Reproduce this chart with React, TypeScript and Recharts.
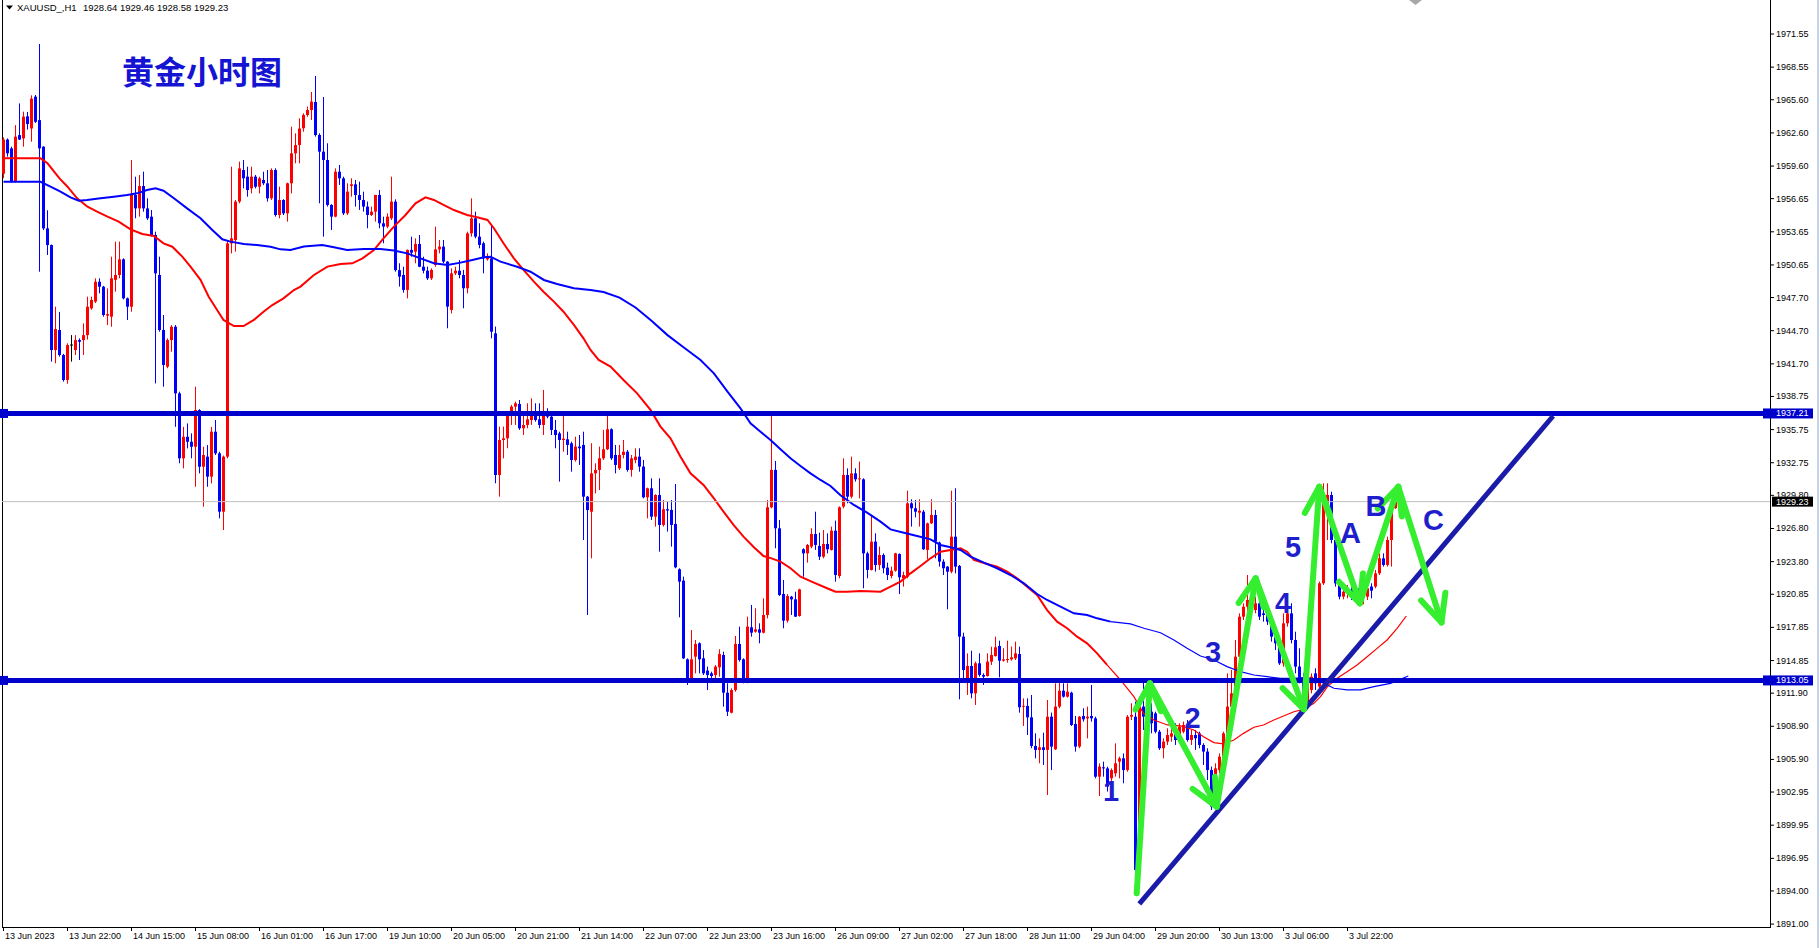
import React from 'react';
import { ComposedChart, Bar, Line, XAxis, YAxis, ReferenceLine, ReferenceDot } from 'recharts';

// ---------- candle data (H1 bars, index 0 = first visible bar) ----------
const openP = [
  1958.9, 1962.0, 1961.2, 1958.2, 1962.4, 1962.1, 1964.1, 1963.0, 1965.88, 1963.76,
  1961.35, 1953.96, 1952.45, 1942.95, 1944.76, 1942.5, 1940.24, 1943.4, 1942.95, 1943.85,
  1943.85, 1944.3, 1946.72, 1947.33, 1949.13, 1948.68, 1946.06, 1945.97, 1949.3, 1949.74,
  1951.16, 1947.63, 1946.87, 1956.98, 1955.77, 1957.79, 1955.77, 1955.02, 1953.36, 1949.74,
  1944.76, 1941.44, 1943.85, 1945.06, 1939.03, 1933.15, 1935.1, 1934.65, 1934.2, 1937.52,
  1932.39, 1933.3, 1931.49, 1935.56, 1933.6, 1928.32, 1933.3, 1952.6, 1952.9, 1956.38,
  1959.24, 1958.64, 1957.58, 1958.64, 1957.73, 1958.34, 1958.04, 1956.68, 1959.24, 1955.17,
  1956.53, 1955.32, 1958.04, 1960.75, 1961.5, 1963.02, 1964.22, 1964.67, 1965.4, 1962.41,
  1960.9, 1960.15, 1956.08, 1955.02, 1959.09, 1958.49, 1955.32, 1957.8, 1957.95, 1956.98,
  1956.53, 1955.93, 1955.17, 1955.47, 1956.98, 1954.42, 1954.12, 1954.87, 1956.38, 1950.18,
  1949.74, 1948.39, 1952.01, 1951.85, 1952.55, 1950.49, 1950.13, 1949.44, 1950.65, 1952.06,
  1952.31, 1950.95, 1946.58, 1949.89, 1950.13, 1949.74, 1948.54, 1953.51, 1954.87, 1953.21,
  1952.61, 1951.16, 1951.25, 1944.46, 1931.64, 1934.81, 1934.96, 1937.07, 1937.83, 1938.07,
  1935.87, 1936.17, 1936.62, 1937.22, 1936.68, 1936.17, 1937.07, 1936.92, 1935.72, 1935.41,
  1934.81, 1934.87, 1934.51, 1933.0, 1934.21, 1934.36, 1929.68, 1928.32, 1931.79, 1932.1,
  1933.15, 1933.97, 1935.78, 1933.45, 1932.25, 1933.45, 1933.75, 1932.1, 1933.0, 1933.3,
  1932.4, 1929.62, 1930.44, 1927.87, 1929.83, 1927.12, 1928.54, 1928.48, 1927.21, 1923.11,
  1922.08, 1914.96, 1913.24, 1915.2, 1916.41, 1915.05, 1913.94, 1913.69, 1913.54, 1914.24,
  1915.35, 1911.94, 1910.13, 1912.18, 1916.35, 1914.96, 1913.09, 1917.86, 1917.46, 1917.67,
  1917.37, 1918.97, 1928.72, 1932.1, 1926.82, 1920.87, 1918.46, 1920.63, 1920.39, 1918.88,
  1924.92, 1924.55, 1925.16, 1926.3, 1925.22, 1924.25, 1925.4, 1924.86, 1926.6, 1922.5,
  1928.78, 1931.64, 1929.68, 1931.79, 1931.25, 1931.25, 1924.55, 1923.05, 1925.61, 1923.5,
  1924.4, 1923.26, 1922.5, 1922.98, 1924.49, 1922.29, 1922.44, 1929.08, 1928.63, 1928.23,
  1928.32, 1924.86, 1927.27, 1928.02, 1925.52, 1923.8, 1923.35, 1922.89, 1926.06, 1923.41,
  1917.01, 1913.24, 1914.36, 1911.88, 1914.6, 1913.54, 1913.45, 1914.75, 1915.26, 1916.17,
  1914.84, 1914.9, 1914.96, 1915.05, 1915.44, 1910.68, 1910.74, 1909.71, 1907.12, 1906.76,
  1907.0, 1906.76, 1909.77, 1906.82, 1910.68, 1912.12, 1911.58, 1911.94, 1909.11, 1907.06,
  1909.83, 1909.62, 1909.83, 1909.62, 1904.34, 1905.19, 1905.09, 1904.19, 1904.64, 1905.7,
  1906.0, 1904.94, 1909.77, 1909.77, 1895.9, 1910.68, 1909.77, 1910.22, 1910.07, 1908.41,
  1906.91, 1907.51, 1907.96, 1908.26, 1907.96, 1908.41, 1909.02, 1907.66, 1908.11, 1908.26,
  1907.21, 1906.61, 1904.94, 1902.83, 1904.94, 1906.15, 1908.26, 1910.68, 1911.88, 1915.2,
  1918.82, 1919.72, 1920.33, 1919.42, 1920.03, 1919.12, 1918.97, 1918.37, 1917.01, 1916.41,
  1914.6, 1918.22, 1919.12, 1916.71, 1914.3, 1913.09, 1910.68, 1912.19, 1913.69, 1912.49,
  1921.84, 1928.78, 1929.83, 1925.76, 1921.84, 1920.63, 1920.99, 1921.24, 1920.87, 1921.39,
  1920.63, 1920.63, 1921.54, 1921.54, 1922.74, 1924.1, 1923.5, 1925.76, 1928.64,
];
const highP = [
  1962.2, 1962.1, 1961.35, 1963.3, 1965.27, 1964.52, 1964.5, 1966.0, 1966.03, 1970.64,
  1961.4, 1955.6, 1952.5, 1946.87, 1946.4, 1942.6, 1943.56, 1944.3, 1944.3, 1944.0,
  1945.36, 1947.78, 1947.78, 1949.44, 1949.44, 1948.75, 1948.53, 1951.4, 1952.76, 1952.76,
  1951.25, 1947.7, 1960.15, 1958.64, 1958.79, 1959.09, 1956.68, 1955.62, 1953.66, 1951.4,
  1946.12, 1944.0, 1945.21, 1945.21, 1939.18, 1936.0, 1936.31, 1935.41, 1939.63, 1937.6,
  1934.2, 1934.35, 1936.0, 1936.62, 1933.75, 1933.4, 1952.9, 1959.54, 1956.53, 1960.0,
  1960.15, 1959.54, 1959.54, 1958.79, 1958.64, 1959.09, 1959.24, 1959.39, 1959.39, 1957.73,
  1956.6, 1958.1, 1963.16, 1962.56, 1963.92, 1964.37, 1964.98, 1966.3, 1967.75, 1962.56,
  1965.85, 1961.66, 1956.15, 1959.39, 1959.7, 1958.64, 1958.04, 1958.49, 1958.34, 1958.19,
  1957.28, 1956.38, 1955.93, 1957.0, 1957.43, 1955.02, 1955.32, 1958.64, 1956.59, 1950.8,
  1950.49, 1952.05, 1953.21, 1953.06, 1953.36, 1951.4, 1950.49, 1950.34, 1954.12, 1952.91,
  1952.91, 1951.0, 1950.34, 1950.49, 1951.1, 1950.2, 1953.66, 1956.68, 1955.47, 1954.42,
  1952.76, 1951.7, 1954.27, 1945.07, 1936.02, 1936.02, 1937.1, 1937.98, 1938.28, 1938.43,
  1937.22, 1938.13, 1938.58, 1938.13, 1938.13, 1939.34, 1937.68, 1937.37, 1936.62, 1935.56,
  1937.07, 1935.56, 1934.66, 1935.11, 1935.26, 1935.56, 1929.75, 1934.51, 1932.7, 1934.21,
  1935.72, 1937.07, 1935.87, 1934.36, 1934.36, 1934.81, 1933.9, 1933.45, 1934.06, 1934.06,
  1933.0, 1930.5, 1931.34, 1929.9, 1931.34, 1929.38, 1929.23, 1929.38, 1930.83, 1923.2,
  1922.44, 1915.05, 1917.61, 1916.71, 1916.5, 1915.8, 1914.3, 1913.84, 1914.45, 1915.87,
  1915.65, 1912.79, 1912.34, 1917.07, 1917.92, 1915.05, 1918.82, 1919.88, 1919.58, 1918.22,
  1920.48, 1929.38, 1936.98, 1932.91, 1927.57, 1922.14, 1920.87, 1920.7, 1921.08, 1921.35,
  1925.01, 1925.4, 1926.82, 1928.32, 1926.42, 1926.66, 1926.36, 1926.97, 1927.51, 1928.8,
  1933.15, 1932.24, 1933.3, 1932.25, 1932.85, 1931.34, 1924.7, 1928.02, 1926.36, 1925.16,
  1924.55, 1923.71, 1923.35, 1924.6, 1924.55, 1922.89, 1930.22, 1929.44, 1929.38, 1929.44,
  1928.48, 1927.33, 1929.44, 1928.48, 1925.61, 1924.01, 1923.4, 1930.22, 1930.44, 1923.5,
  1917.37, 1915.5, 1915.74, 1914.75, 1915.5, 1913.69, 1915.5, 1916.1, 1917.01, 1916.65,
  1915.96, 1916.65, 1916.11, 1916.56, 1916.11, 1911.43, 1911.43, 1911.73, 1908.26, 1907.81,
  1908.32, 1911.28, 1910.13, 1912.79, 1912.85, 1912.79, 1912.79, 1912.03, 1909.83, 1909.83,
  1910.53, 1910.68, 1912.64, 1909.77, 1905.55, 1905.7, 1905.25, 1905.09, 1907.36, 1906.15,
  1906.45, 1909.92, 1910.98, 1911.13, 1911.58, 1912.94, 1911.28, 1910.98, 1910.22, 1908.57,
  1907.81, 1908.72, 1908.72, 1909.17, 1909.17, 1909.32, 1909.47, 1908.57, 1908.57, 1908.41,
  1907.36, 1906.91, 1905.25, 1905.55, 1906.45, 1908.41, 1913.69, 1914.0, 1916.71, 1919.12,
  1920.03, 1922.59, 1921.84, 1920.63, 1920.63, 1920.03, 1919.42, 1918.82, 1917.46, 1916.71,
  1919.12, 1920.33, 1920.03, 1917.46, 1915.96, 1913.69, 1913.09, 1913.69, 1914.15, 1921.99,
  1930.89, 1930.89, 1930.13, 1926.06, 1922.14, 1921.54, 1921.69, 1921.54, 1921.84, 1921.69,
  1922.44, 1921.84, 1921.84, 1923.05, 1924.55, 1924.55, 1926.06, 1929.08, 1929.46,
];
const lowP = [
  1958.5, 1960.45, 1958.1, 1958.1, 1961.96, 1961.35, 1962.9, 1961.8, 1963.5, 1950.04,
  1953.8, 1951.55, 1941.9, 1941.75, 1942.35, 1940.09, 1939.9, 1941.9, 1942.5, 1942.05,
  1942.5, 1943.9, 1946.6, 1947.2, 1948.08, 1945.97, 1945.21, 1945.06, 1948.23, 1949.44,
  1947.54, 1945.67, 1946.42, 1954.87, 1955.02, 1955.47, 1954.72, 1953.21, 1939.93, 1944.61,
  1939.63, 1941.3, 1942.8, 1936.0, 1932.7, 1932.24, 1934.05, 1933.15, 1930.58, 1931.79,
  1928.77, 1930.58, 1930.88, 1933.45, 1927.72, 1926.66, 1933.15, 1951.7, 1951.85, 1956.23,
  1957.58, 1956.83, 1957.13, 1957.58, 1957.13, 1957.88, 1956.38, 1956.53, 1955.02, 1954.87,
  1955.17, 1954.57, 1957.13, 1959.85, 1959.85, 1962.71, 1964.07, 1963.77, 1962.26, 1956.23,
  1953.21, 1955.93, 1953.81, 1954.96, 1957.89, 1955.17, 1955.17, 1956.83, 1955.93, 1955.63,
  1955.47, 1953.97, 1955.08, 1954.57, 1953.97, 1952.61, 1953.97, 1954.72, 1950.04, 1948.69,
  1948.14, 1947.63, 1951.4, 1950.8, 1950.45, 1949.89, 1949.29, 1949.29, 1950.49, 1951.7,
  1950.8, 1944.92, 1946.27, 1949.74, 1949.44, 1946.73, 1948.08, 1953.21, 1953.06, 1952.16,
  1949.89, 1951.04, 1944.01, 1930.89, 1929.68, 1933.15, 1934.06, 1936.17, 1936.17, 1935.72,
  1935.26, 1935.87, 1936.17, 1936.47, 1935.87, 1935.26, 1936.77, 1935.26, 1934.06, 1931.04,
  1933.75, 1933.45, 1931.94, 1932.85, 1932.55, 1925.76, 1918.97, 1924.1, 1929.98, 1930.28,
  1933.0, 1933.9, 1933.0, 1931.79, 1932.1, 1933.15, 1931.94, 1931.49, 1932.7, 1931.94,
  1929.53, 1927.72, 1927.57, 1926.97, 1924.7, 1926.97, 1926.52, 1925.16, 1923.2, 1918.76,
  1915.0, 1912.64, 1913.15, 1913.69, 1913.69, 1913.54, 1912.18, 1913.24, 1913.24, 1913.39,
  1910.68, 1909.83, 1910.07, 1912.03, 1914.75, 1912.79, 1912.79, 1917.01, 1917.37, 1916.41,
  1917.31, 1918.67, 1928.63, 1925.01, 1920.69, 1917.77, 1918.28, 1918.97, 1918.8, 1918.82,
  1922.44, 1923.71, 1925.01, 1924.86, 1923.95, 1924.1, 1924.55, 1924.8, 1921.99, 1922.29,
  1928.63, 1929.08, 1929.53, 1931.04, 1929.53, 1921.39, 1922.29, 1923.0, 1922.9, 1923.05,
  1922.74, 1922.14, 1922.29, 1922.89, 1920.87, 1921.54, 1922.29, 1926.97, 1927.81, 1926.97,
  1924.86, 1924.01, 1927.21, 1924.1, 1923.35, 1922.59, 1919.49, 1922.74, 1922.74, 1911.34,
  1913.24, 1911.73, 1911.43, 1910.83, 1913.39, 1912.64, 1913.39, 1914.45, 1915.2, 1913.33,
  1914.75, 1914.66, 1914.84, 1914.9, 1910.13, 1908.93, 1908.11, 1906.91, 1906.0, 1905.55,
  1905.4, 1902.68, 1904.94, 1906.76, 1910.53, 1911.5, 1911.5, 1908.93, 1906.61, 1906.91,
  1909.32, 1907.81, 1909.32, 1904.19, 1902.59, 1904.34, 1902.99, 1903.44, 1904.34, 1904.19,
  1903.74, 1904.79, 1909.47, 1893.63, 1895.59, 1908.57, 1908.26, 1908.26, 1908.26, 1906.76,
  1906.0, 1907.21, 1907.51, 1907.21, 1907.51, 1908.26, 1907.51, 1907.21, 1906.76, 1906.91,
  1905.4, 1904.04, 1901.32, 1902.8, 1904.64, 1906.0, 1907.96, 1910.38, 1911.73, 1915.05,
  1918.52, 1919.12, 1919.12, 1919.12, 1918.52, 1918.37, 1918.07, 1916.56, 1915.8, 1914.45,
  1914.3, 1917.92, 1916.41, 1913.69, 1912.79, 1910.38, 1910.53, 1911.88, 1912.19, 1912.34,
  1921.69, 1925.76, 1925.46, 1921.54, 1920.39, 1920.39, 1920.48, 1920.33, 1920.63, 1920.18,
  1919.94, 1920.33, 1920.48, 1921.39, 1922.59, 1923.35, 1923.35, 1923.35, 1928.58,
];
const closeP = [
  1962.0, 1960.75, 1958.2, 1962.26, 1962.0, 1964.07, 1963.4, 1965.7, 1963.6, 1961.2,
  1953.96, 1952.45, 1942.95, 1944.85, 1942.5, 1940.24, 1943.4, 1943.4, 1943.85, 1943.7,
  1944.3, 1946.87, 1947.48, 1949.13, 1948.68, 1946.12, 1946.2, 1949.44, 1949.74, 1951.16,
  1947.63, 1946.87, 1956.98, 1955.77, 1957.79, 1955.77, 1954.87, 1953.36, 1949.89, 1944.76,
  1941.6, 1943.85, 1945.06, 1939.03, 1933.15, 1935.1, 1934.65, 1934.2, 1937.52, 1932.39,
  1933.45, 1931.49, 1935.56, 1933.6, 1928.32, 1933.3, 1952.6, 1953.06, 1956.38, 1959.39,
  1958.49, 1957.43, 1958.64, 1957.73, 1958.49, 1958.04, 1956.68, 1959.24, 1955.17, 1956.53,
  1955.32, 1958.04, 1960.75, 1961.5, 1963.0, 1964.22, 1964.67, 1965.43, 1962.41, 1960.9,
  1960.15, 1956.08, 1955.02, 1959.09, 1958.49, 1955.32, 1957.28, 1957.95, 1956.98, 1956.53,
  1955.93, 1955.17, 1955.47, 1956.98, 1954.42, 1954.12, 1955.02, 1956.38, 1950.18, 1949.59,
  1948.39, 1952.01, 1951.76, 1952.55, 1950.49, 1950.13, 1949.44, 1950.2, 1952.06, 1952.31,
  1950.95, 1946.88, 1949.89, 1950.13, 1949.74, 1948.54, 1953.51, 1954.87, 1953.21, 1952.46,
  1951.25, 1951.4, 1944.61, 1931.64, 1934.81, 1934.96, 1937.07, 1937.83, 1938.13, 1935.87,
  1936.17, 1936.68, 1937.22, 1936.62, 1936.17, 1937.07, 1936.92, 1935.72, 1935.26, 1934.81,
  1934.93, 1934.36, 1933.0, 1934.21, 1934.06, 1929.68, 1928.47, 1931.79, 1932.1, 1933.15,
  1933.97, 1935.78, 1933.15, 1932.55, 1933.45, 1933.75, 1932.1, 1933.15, 1933.3, 1932.4,
  1929.62, 1930.44, 1927.87, 1929.83, 1927.12, 1928.54, 1928.42, 1927.12, 1923.29, 1921.99,
  1915.05, 1913.24, 1914.96, 1916.35, 1914.96, 1913.69, 1913.54, 1913.45, 1914.3, 1915.44,
  1911.94, 1910.22, 1912.18, 1916.35, 1914.9, 1913.09, 1917.92, 1917.37, 1917.67, 1917.37,
  1918.97, 1928.72, 1932.1, 1926.82, 1920.78, 1918.46, 1920.69, 1920.39, 1918.82, 1921.29,
  1924.55, 1925.31, 1926.3, 1925.31, 1924.25, 1925.4, 1924.92, 1926.6, 1922.59, 1928.72,
  1931.64, 1929.68, 1931.79, 1931.25, 1931.34, 1924.55, 1923.05, 1925.61, 1923.5, 1924.4,
  1923.2, 1922.59, 1922.98, 1924.55, 1922.38, 1922.59, 1929.08, 1928.63, 1928.32, 1928.41,
  1924.92, 1927.27, 1928.02, 1925.61, 1923.8, 1923.2, 1922.89, 1926.06, 1923.35, 1917.01,
  1913.99, 1914.36, 1911.88, 1914.6, 1913.54, 1913.39, 1914.75, 1915.35, 1916.05, 1914.84,
  1914.96, 1914.99, 1915.14, 1915.5, 1910.62, 1910.74, 1909.71, 1907.12, 1906.76, 1907.0,
  1906.76, 1909.77, 1907.06, 1910.68, 1912.12, 1911.58, 1912.03, 1909.02, 1907.06, 1909.77,
  1909.53, 1909.77, 1909.62, 1904.34, 1905.25, 1905.09, 1903.44, 1904.94, 1905.55, 1906.0,
  1904.94, 1909.77, 1909.92, 1895.9, 1910.68, 1909.77, 1910.38, 1909.17, 1908.41, 1906.91,
  1907.51, 1908.11, 1908.26, 1907.66, 1908.87, 1909.02, 1907.66, 1908.11, 1907.81, 1907.21,
  1906.61, 1904.94, 1901.63, 1905.09, 1906.15, 1908.26, 1910.68, 1911.88, 1915.2, 1918.82,
  1919.72, 1920.33, 1919.42, 1920.03, 1918.82, 1918.97, 1918.37, 1917.01, 1916.41, 1914.6,
  1918.22, 1919.12, 1916.71, 1914.3, 1913.09, 1910.68, 1912.79, 1913.39, 1912.79, 1921.84,
  1929.68, 1929.83, 1925.76, 1921.84, 1920.63, 1921.08, 1921.24, 1920.87, 1921.39, 1920.63,
  1921.54, 1921.39, 1921.17, 1922.74, 1924.1, 1923.5, 1925.76, 1928.32, 1929.23,
];

// ---------- moving averages: [bar position, price] ----------
const maRedEarly: number[][] = [
  [0, 1960.3], [9.25, 1960.3], [11, 1959.85], [14, 1958.49], [16, 1957.73], [18.4, 1956.68], [21, 1955.92],
  [23.4, 1955.47], [26, 1955.02], [28.8, 1954.57], [31.75, 1953.87], [34.7, 1953.45], [37.6, 1953.27],
  [40, 1952.6], [42.2, 1952.3], [44.7, 1951.4], [46.75, 1950.5], [49.25, 1949.3], [51.3, 1947.78],
  [53.4, 1946.57], [55, 1945.67], [57.6, 1945.12], [60, 1945.12], [62.6, 1945.67], [65, 1946.42],
  [67.2, 1947.02], [70, 1947.63], [72.6, 1948.38], [74.25, 1948.69], [77.6, 1949.74], [81, 1950.5],
  [84.25, 1950.74], [87.2, 1950.8], [89.75, 1951.25], [92.6, 1952.0], [95, 1953.06], [97.6, 1954.12],
  [100.5, 1955.17], [103, 1956.23], [105.5, 1956.77], [107.6, 1956.53], [110, 1956.08], [112.6, 1955.62],
  [115.9, 1955.17], [118.4, 1954.96], [121, 1954.72], [122.6, 1953.97], [125, 1952.61], [127.6, 1951.25],
  [130, 1950.2], [132.6, 1949.14], [135, 1948.23], [137.6, 1947.33], [140, 1946.42], [142.6, 1945.22],
  [145, 1944.01], [146.75, 1942.96], [148.8, 1942.05], [151.75, 1941.45], [155, 1940.24], [158.4, 1939.03],
  [161.75, 1937.53], [164.25, 1936.02], [166.75, 1934.96], [169.25, 1933.3], [171.75, 1931.79], [175, 1930.74],
  [177.6, 1929.53], [180, 1928.32], [182.5, 1927.12], [185, 1926.06], [187.6, 1925.1], [190, 1924.31],
  [192, 1924.1], [194.25, 1923.8], [196.75, 1923.2], [199.25, 1922.44], [202.6, 1921.9], [205.9, 1921.39],
  [208, 1921.08], [210.9, 1921.08], [214.25, 1921.14], [219.25, 1921.08], [221.75, 1921.54], [224.25, 1921.99],
  [226.75, 1922.74], [229.25, 1923.41], [231.75, 1924.1], [234.25, 1924.7], [236.75, 1924.86], [239.25, 1925.0],
  [240.9, 1924.7], [242.6, 1923.95], [245.9, 1923.59], [248.4, 1923.35], [250.9, 1922.89], [253.4, 1922.29],
  [255.9, 1921.54], [258.4, 1920.78], [260.9, 1919.42], [263.4, 1918.37], [265.9, 1917.77], [268.4, 1917.01],
  [270.9, 1916.41], [273.4, 1915.5], [275.9, 1914.45],
];
const maRedLate: number[][] = [
  [275.9, 1914.45], [279.25, 1913.09], [282.6, 1911.58], [285, 1910.07], [287.6, 1909.47], [291, 1909.02],
  [294.25, 1908.93], [297.6, 1908.57], [300, 1907.96], [302.6, 1907.42], [305, 1907.3], [307.6, 1907.66],
  [310, 1908.26], [312.6, 1908.81], [315, 1909.02], [317.6, 1909.47], [320, 1909.83], [322.6, 1910.22],
  [325, 1910.43], [327.6, 1910.98], [329.25, 1911.58], [331, 1912.49], [333.4, 1913.24], [335.9, 1913.84],
  [338.4, 1914.45], [340.9, 1915.2], [343.4, 1915.95], [345.9, 1916.71], [348.4, 1917.77], [350.7, 1918.88],
];
const maBlueEarly: number[][] = [
  [0, 1958.18], [9.25, 1958.18], [11.75, 1957.73], [14.25, 1957.28], [16.75, 1956.77], [18.8, 1956.47],
  [20.9, 1956.53], [24.25, 1956.68], [27.6, 1956.83], [30.9, 1956.98], [33.4, 1957.13], [35.9, 1957.43],
  [38, 1957.58], [40, 1957.37], [42.6, 1956.68], [45.9, 1955.77], [49.25, 1954.87], [52.2, 1953.81],
  [54.7, 1952.97], [56.75, 1952.76], [60.1, 1952.55], [63.4, 1952.45], [66.75, 1952.3], [69.25, 1952.06],
  [71.75, 1952.0], [75.1, 1952.31], [79.7, 1952.46], [82.6, 1952.25], [85.9, 1952.01], [90.1, 1952.1],
  [94.25, 1952.1], [97.6, 1951.95], [100.9, 1951.7], [104.25, 1951.25], [107.6, 1950.8], [111, 1950.65],
  [114.25, 1950.86], [117.2, 1951.1], [120.1, 1951.34], [121.75, 1951.4], [124.25, 1950.95], [128.4, 1950.49],
  [131.75, 1950.04], [135.1, 1949.29], [138.4, 1948.93], [142.6, 1948.54], [146.75, 1948.39], [150, 1948.2],
  [154, 1947.7], [158, 1946.8], [162, 1945.6], [166, 1944.3], [170, 1943.2], [174.25, 1942.05],
  [177.6, 1940.84], [181, 1939.18], [184.25, 1937.68], [186.75, 1936.32], [189.25, 1935.56], [191.75, 1934.81],
  [194.25, 1933.97], [196.75, 1933.15], [199.25, 1932.46], [201.75, 1931.79], [204.25, 1931.19], [206.75, 1930.65],
  [209.25, 1929.8], [212.6, 1928.93], [215.9, 1928.23], [219.25, 1927.42], [221.75, 1926.72], [225.1, 1926.42],
  [228.4, 1926.12], [231.75, 1925.82], [234.25, 1925.31], [236.75, 1925.1], [239.25, 1924.86], [241.75, 1924.25],
  [245.1, 1923.71], [248.4, 1923.2], [251.75, 1922.59], [255.1, 1921.84], [258.4, 1920.87], [260.9, 1920.33],
  [264.25, 1919.72], [267.6, 1919.12], [270.9, 1918.97], [273.4, 1918.67], [276.75, 1918.37],
];
const maBlueLate: number[][] = [
  [276.75, 1918.37], [281.75, 1918.16], [285.1, 1917.77], [289.25, 1917.37], [292.6, 1916.71], [295.9, 1915.96],
  [299.25, 1915.26], [302.6, 1914.9], [305.9, 1914.3], [309.25, 1913.84], [312.6, 1913.54], [315.9, 1913.39],
  [319.25, 1913.24], [322.6, 1913.24], [325.9, 1913.33], [329.25, 1912.94], [332.6, 1912.34], [335.9, 1912.19],
  [339.25, 1912.19], [342.6, 1912.49], [346.75, 1912.79], [351.2, 1913.45],
];

// ---------- axes ----------
const xTickBars = [0, 16, 32, 48, 64, 80, 96, 112, 128, 144, 160, 176, 192, 208, 224, 240, 256, 272, 288, 304, 320, 336];
const xTickLabels = [
  '13 Jun 2023', '13 Jun 22:00', '14 Jun 15:00', '15 Jun 08:00', '16 Jun 01:00', '16 Jun 17:00',
  '19 Jun 10:00', '20 Jun 05:00', '20 Jun 21:00', '21 Jun 14:00', '22 Jun 07:00', '22 Jun 23:00',
  '23 Jun 16:00', '26 Jun 09:00', '27 Jun 02:00', '27 Jun 18:00', '28 Jun 11:00', '29 Jun 04:00',
  '29 Jun 20:00', '30 Jun 13:00', '3 Jul 06:00', '3 Jul 22:00',
];
const yTickValues = [
  1971.55, 1968.55, 1965.6, 1962.6, 1959.6, 1956.65, 1953.65, 1950.65, 1947.7, 1944.7, 1941.7, 1938.75,
  1935.75, 1932.75, 1929.8, 1926.8, 1923.8, 1920.85, 1917.85, 1914.85, 1911.9, 1908.9, 1905.9, 1902.95,
  1899.95, 1896.95, 1894.0, 1891.0,
];
const X_DOMAIN: [number, number] = [-0.375, 441.625];
const Y_DOMAIN: [number, number] = [1890.736, 1974.627];
const AXIS_Y = 927; // bottom edge of the plot area (chart height 948 - x-axis height 21)

// ---------- annotations ----------
const levelPrices = [1937.21, 1913.05];
const bidPrice = 1929.23;
const trendBars = [283.95, 387.4];
const trendPrices = [1892.82, 1936.98];
const zigzagBars = [283.3, 286.6, 303.3, 313.05, 325.1, 328.95, 339.1, 348.7, 359.5];
const zigzagPrices = [1893.79, 1912.79, 1901.62, 1922.29, 1910.44, 1930.58, 1920.03, 1930.58, 1918.29];
const waveTexts = ['1', '2', '3', '4', '5', 'A', 'B', 'C'];
const waveBars = [276.9, 297.25, 302.4, 319.9, 322.4, 336.75, 343.1, 357.5];
const wavePrices = [1903.05, 1909.65, 1915.62, 1920.06, 1925.13, 1926.39, 1928.84, 1927.57];

const BULL = '#FF0000';
const BEAR = '#0000FF';
const LEVEL = '#0000CD';
const TREND = '#1B1BAA';
const GREEN = '#36EE30';
const FONT = '"Liberation Sans", Arial, sans-serif';

const candles = closeP.map((c, i) => ({ i, o: openP[i], h: highP[i], l: lowP[i], c, range: [lowP[i], highP[i]] }));
const toLine = (pts: number[][]) => pts.map(([x, v]) => ({ x, v }));

const renderCandle = (props: any) => {
  const { x, y, width, height, payload } = props;
  if (!payload || x == null || y == null) return <g />;
  const { o, h, l, c } = payload;
  const top = Math.min(y, y + height);
  const hgt = Math.abs(height);
  const cx = Math.floor(x + width / 2 + 0.25) + 0.5;
  const k = h > l ? hgt / (h - l) : 0;
  const yO = top + (h - o) * k;
  const yC = top + (h - c) * k;
  const color = c > o ? BULL : c < o ? BEAR : '#000000';
  let bt = Math.min(yO, yC);
  let bb = Math.max(yO, yC);
  if (bb - bt < 1) {
    const m = (bt + bb) / 2;
    bt = m - 0.5;
    bb = m + 0.5;
  }
  return (
    <g>
      <line x1={cx} x2={cx} y1={top} y2={top + hgt} stroke={color} strokeWidth={1} />
      <rect x={cx - 1.5} y={bt} width={3} height={bb - bt} fill={color} />
    </g>
  );
};

const renderXTick = (props: any) => {
  const { x, payload } = props;
  const idx = xTickBars.indexOf(payload.value);
  return (
    <g>
      <line x1={x} x2={x} y1={AXIS_Y} y2={AXIS_Y + 4} stroke="#000" strokeWidth={1} />
      <text x={x + 1.5} y={AXIS_Y + 9} fontSize={9} fontFamily={FONT} fill="#000" dominantBaseline="central">
        {xTickLabels[idx]}
      </text>
    </g>
  );
};

const renderYTick = (props: any) => {
  const { x, y, payload } = props;
  return (
    <g>
      <line x1={x - 5} x2={x - 2} y1={y} y2={y} stroke="#000" strokeWidth={1} />
      <text x={x} y={y} fontSize={9} fontFamily={FONT} fill="#000" dominantBaseline="central">
        {Number(payload.value).toFixed(2)}
      </text>
    </g>
  );
};

const levelShape = (label: string) => (p: any) => {
  const xl = Math.min(p.x1, p.x2);
  const xr = Math.max(p.x1, p.x2);
  const yy = p.y1;
  return (
    <g>
      <line x1={xl} x2={xr} y1={yy} y2={yy} stroke={LEVEL} strokeWidth={5} />
      <rect x={xl - 2} y={yy - 4.5} width={8} height={9} fill={LEVEL} />
      <rect x={xr - 7} y={yy - 5} width={50} height={10} fill={LEVEL} />
      <text x={xr + 6} y={yy} fontSize={9} fontFamily={FONT} fill="#FFFFFF" dominantBaseline="central">
        {label}
      </text>
    </g>
  );
};

const bidShape = (label: string) => (p: any) => {
  const xl = Math.min(p.x1, p.x2);
  const xr = Math.max(p.x1, p.x2);
  const yy = p.y1;
  return (
    <g>
      <line x1={xl} x2={xr} y1={yy} y2={yy} stroke="#C0C0C0" strokeWidth={1} />
      <rect x={xr + 2} y={yy - 5} width={41} height={10} fill="#000" />
      <text x={xr + 6} y={yy} fontSize={9} fontFamily={FONT} fill="#FFFFFF" dominantBaseline="central">
        {label}
      </text>
    </g>
  );
};

const arrowShape = (p: any) => {
  const { x1, y1, x2, y2 } = p;
  const dx = x2 - x1;
  const dy = y2 - y1;
  const len = Math.hypot(dx, dy) || 1;
  const bx = -dx / len;
  const by = -dy / len;
  const L = 30;
  const a = (25 * Math.PI) / 180;
  const ax1 = x2 + L * (bx * Math.cos(a) - by * Math.sin(a));
  const ay1 = y2 + L * (bx * Math.sin(a) + by * Math.cos(a));
  const ax2 = x2 + L * (bx * Math.cos(-a) - by * Math.sin(-a));
  const ay2 = y2 + L * (bx * Math.sin(-a) + by * Math.cos(-a));
  return (
    <g>
      <line x1={x1} y1={y1} x2={x2} y2={y2} stroke={GREEN} strokeWidth={6} strokeLinecap="round" />
      <polyline
        points={`${ax1},${ay1} ${x2},${y2} ${ax2},${ay2}`}
        fill="none"
        stroke={GREEN}
        strokeWidth={6}
        strokeLinecap="round"
        strokeLinejoin="round"
      />
    </g>
  );
};

const trendShape = (p: any) => (
  <line x1={p.x1} y1={p.y1} x2={p.x2} y2={p.y2} stroke={TREND} strokeWidth={5} />
);

const waveShape = (text: string) => (p: any) => (
  <text
    x={p.cx}
    y={p.cy}
    fontSize={29}
    fontWeight={700}
    fontFamily={FONT}
    fill="#1E1ECC"
    textAnchor="middle"
    dominantBaseline="central"
  >
    {text}
  </text>
);

export default function App() {
  return (
    <div style={{ position: 'fixed', left: 0, top: 0, width: 1820, height: 948, background: '#FFFFFF', overflow: 'hidden' }}>
      <svg width={1820} height={948} style={{ position: 'absolute', left: 0, top: 0 }}>
        <line x1={2.5} y1={0} x2={2.5} y2={928} stroke="#000" strokeWidth={1} />
        <line x1={2} y1={927.5} x2={1771} y2={927.5} stroke="#000" strokeWidth={1} />
        <line x1={1770.5} y1={0} x2={1770.5} y2={928} stroke="#000" strokeWidth={1} />
        <rect x={1817} y={0} width={2} height={948} fill="#C4D3EA" />
        <polygon points="1409,0 1422,0 1415.5,5" fill="#A8A8A8" />
      </svg>
      <div style={{ position: 'absolute', left: 0, top: 0 }}>
        <ComposedChart width={1820} height={948} data={candles} margin={{ top: 0, right: 0, bottom: 0, left: 2 }}>
          <XAxis
            xAxisId="main"
            dataKey="i"
            type="number"
            domain={X_DOMAIN}
            allowDataOverflow
            ticks={xTickBars}
            interval={0}
            height={21}
            tickSize={0}
            tickMargin={0}
            tickLine={false}
            axisLine={false}
            tick={renderXTick}
          />
          <XAxis xAxisId="ma" dataKey="x" type="number" domain={X_DOMAIN} allowDataOverflow hide />
          <YAxis
            yAxisId="p"
            orientation="right"
            type="number"
            domain={Y_DOMAIN}
            allowDataOverflow
            ticks={yTickValues}
            interval={0}
            width={50}
            tickSize={4}
            tickMargin={2}
            tickLine={false}
            axisLine={false}
            tick={renderYTick}
          />
          <Bar xAxisId="main" yAxisId="p" dataKey="range" barSize={3} shape={renderCandle} isAnimationActive={false} />
          <Line xAxisId="ma" yAxisId="p" data={toLine(maRedEarly)} dataKey="v" type="linear" stroke={BULL} strokeWidth={2} dot={false} activeDot={false} isAnimationActive={false} />
          <Line xAxisId="ma" yAxisId="p" data={toLine(maRedLate)} dataKey="v" type="linear" stroke={BULL} strokeWidth={1.2} dot={false} activeDot={false} isAnimationActive={false} />
          <Line xAxisId="ma" yAxisId="p" data={toLine(maBlueEarly)} dataKey="v" type="linear" stroke={BEAR} strokeWidth={2} dot={false} activeDot={false} isAnimationActive={false} />
          <Line xAxisId="ma" yAxisId="p" data={toLine(maBlueLate)} dataKey="v" type="linear" stroke={BEAR} strokeWidth={1.2} dot={false} activeDot={false} isAnimationActive={false} />
          <ReferenceLine xAxisId="main" yAxisId="p" y={bidPrice} shape={bidShape(bidPrice.toFixed(2))} />
          {levelPrices.map((lv) => (
            <ReferenceLine key={lv} xAxisId="main" yAxisId="p" y={lv} shape={levelShape(lv.toFixed(2))} />
          ))}
          <ReferenceLine
            xAxisId="main"
            yAxisId="p"
            segment={[
              { x: trendBars[0], y: trendPrices[0] },
              { x: trendBars[1], y: trendPrices[1] },
            ]}
            shape={trendShape}
          />
          {zigzagBars.slice(1).map((b, k) => (
            <ReferenceLine
              key={`z${k}`}
              xAxisId="main"
              yAxisId="p"
              segment={[
                { x: zigzagBars[k], y: zigzagPrices[k] },
                { x: b, y: zigzagPrices[k + 1] },
              ]}
              shape={arrowShape}
            />
          ))}
          {waveTexts.map((t, k) => (
            <ReferenceDot key={`w${t}`} xAxisId="main" yAxisId="p" x={waveBars[k]} y={wavePrices[k]} r={0} shape={waveShape(t)} />
          ))}
        </ComposedChart>
      </div>
      <svg width={1820} height={948} style={{ position: 'absolute', left: 0, top: 0, pointerEvents: 'none' }}>
        <polygon points="6,5.5 13,5.5 9.5,9.5" fill="#000" />
        <text x={17} y={7.5} fontSize={9.5} fontFamily={FONT} fill="#000" dominantBaseline="central">XAUUSD_,H1</text>
        <text x={83} y={7.5} fontSize={9.5} fontFamily={FONT} fill="#000" dominantBaseline="central">1928.64 1929.46 1928.58 1929.23</text>
        <text x={122} y={84} fontSize={32} fontWeight={700} fontFamily='"Noto Sans CJK SC", sans-serif' fill="#1414D2">黄金小时图</text>
      </svg>
    </div>
  );
}
